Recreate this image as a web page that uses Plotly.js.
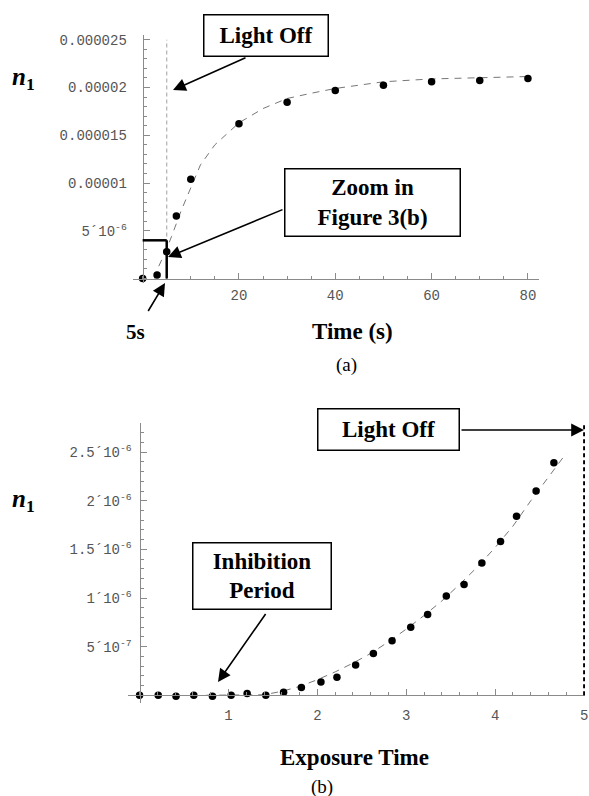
<!DOCTYPE html>
<html><head><meta charset="utf-8">
<script src="https://cdn.plot.ly/plotly-3.0.1.min.js"></script>
<style>html,body{margin:0;padding:0;background:#fff}#chart{width:589px;height:796px}</style>
</head><body><div id="chart"></div>
<script>
// ---- Figure (a): n1 vs Time (s) ----
const timeA = [0, 3, 5, 7, 10, 20, 30, 40, 50, 60, 70, 80];
const n1A = [0, 0.37e-6, 2.81e-6, 6.55e-6, 10.4e-6, 16.2e-6, 18.47e-6, 19.7e-6, 20.25e-6, 20.6e-6, 20.74e-6, 20.95e-6];
const fitTimeA = [2.5, 3, 4, 5, 6, 7, 8, 10, 12, 15, 17.5, 20, 25, 30, 35, 40, 45, 50, 60, 70, 80];
const fitN1A = [0, 0.9e-6, 2.0e-6, 3.1e-6, 4.4e-6, 5.8e-6, 7.1e-6, 9.5e-6, 11.9e-6, 14.0e-6, 15.2e-6, 16.3e-6, 17.8e-6, 18.85e-6, 19.4e-6, 19.9e-6, 20.25e-6, 20.6e-6, 20.9e-6, 21.05e-6, 21.15e-6];
const xTickValsA = [20, 40, 60, 80];
const xTickTextA = ['20', '40', '60', '80'];
const yTickValsA = [5e-6, 1e-5, 1.5e-5, 2e-5, 2.5e-5];
const yTickTextA = ['5\u00b410<sup>-6</sup>', '0.00001', '0.000015', '0.00002', '0.000025'];
const lightOffTimeA = 5;
const zoomBoxA = {t: 5, n: 4e-6};

// ---- Figure (b): n1 vs Exposure Time ----
const timeB = [0, 0.21, 0.41, 0.61, 0.82, 1.03, 1.21, 1.42, 1.62, 1.82, 2.04, 2.22, 2.43, 2.63, 2.84, 3.05, 3.24, 3.45, 3.65, 3.85, 4.06, 4.24, 4.46, 4.66];
const n1B = [0, 0, -0.01e-6, 0, -0.01e-6, 0, 0.017e-6, 0, 0.03e-6, 0.08e-6, 0.135e-6, 0.185e-6, 0.31e-6, 0.43e-6, 0.56e-6, 0.70e-6, 0.83e-6, 1.02e-6, 1.14e-6, 1.36e-6, 1.58e-6, 1.84e-6, 2.10e-6, 2.39e-6];
const fitTimeB = [0.75, 1.0, 1.2, 1.4, 1.6, 1.8, 2.0, 2.2, 2.4, 2.6, 2.8, 3.0, 3.2, 3.4, 3.6, 3.8, 4.0, 4.2, 4.4, 4.6, 4.8];
const fitN1B = [0, 0, 0, 0.005e-6, 0.04e-6, 0.09e-6, 0.16e-6, 0.24e-6, 0.33e-6, 0.43e-6, 0.55e-6, 0.68e-6, 0.82e-6, 0.97e-6, 1.14e-6, 1.32e-6, 1.52e-6, 1.74e-6, 2.0e-6, 2.25e-6, 2.49e-6];
const xTickValsB = [1, 2, 3, 4, 5];
const xTickTextB = ['1', '2', '3', '4', '5'];
const yTickValsB = [5e-7, 1e-6, 1.5e-6, 2e-6, 2.5e-6];
const yTickTextB = ['5\u00b410<sup>-7</sup>', '1\u00b410<sup>-6</sup>', '1.5\u00b410<sup>-6</sup>', '2\u00b410<sup>-6</sup>', '2.5\u00b410<sup>-6</sup>'];
const lightOffTimeB = 5;

// ---- layout helpers ----
const W = 589, H = 796;
const PX = x => x / W;
const PY = y => 1 - y / H;
const SERIF = 'Liberation Serif, Times New Roman, serif';
const MONO = 'Liberation Mono, Courier New, monospace';
const AXC = '#8a8a8a';

const domXA = [PX(133), PX(539)], domYA = [PY(283), PY(35)];
const rngXA = [-2, 82.3], rngYA = [-0.47e-6, 25.5e-6];
const domXB = [PX(128), PX(585)], domYB = [PY(703), PY(423)];
const rngXB = [-0.13, 5.01], rngYB = [-0.08e-6, 2.8e-6];
const zeroPos = (dom, rng) => dom[0] + (0 - rng[0]) / (rng[1] - rng[0]) * (dom[1] - dom[0]);

function axis(common) {
  return Object.assign({
    showgrid: false, zeroline: false, showline: true, linecolor: AXC, linewidth: 1,
    ticks: 'inside', ticklen: 6, tickcolor: AXC, tickwidth: 1,
    tickfont: {family: MONO, size: 14, color: '#555'},
    tickmode: 'array', anchor: 'free', fixedrange: true
  }, common);
}

const traces = [
  {x: fitTimeA, y: fitN1A, mode: 'lines', line: {color: '#777', width: 1, dash: '7px,6px'}, xaxis: 'x', yaxis: 'y', hoverinfo: 'skip', cliponaxis: false},
  {x: timeA, y: n1A, mode: 'markers', marker: {color: '#000', size: 7.5}, xaxis: 'x', yaxis: 'y', cliponaxis: false},
  {x: fitTimeB, y: fitN1B, mode: 'lines', line: {color: '#777', width: 1, dash: '7px,6px'}, xaxis: 'x2', yaxis: 'y2', hoverinfo: 'skip', cliponaxis: false},
  {x: timeB, y: n1B, mode: 'markers', marker: {color: '#000', size: 7.5}, xaxis: 'x2', yaxis: 'y2', cliponaxis: false}
];

function box(text, cx, cy, w, h, size) {
  return {xref: 'paper', yref: 'paper', x: PX(cx), y: PY(cy), xanchor: 'center', yanchor: 'middle',
    text: text, showarrow: false, font: {family: SERIF, size: size || 23, color: '#000'},
    bordercolor: '#000', borderwidth: 1.5, borderpad: 0, bgcolor: '#fff', width: w, height: h};
}
function arrow(tx, ty, hx, hy) {
  return {xref: 'paper', yref: 'paper', x: PX(hx), y: PY(hy), ax: tx - hx, ay: ty - hy,
    text: ' ', font: {size: 1}, showarrow: true, arrowhead: 2, arrowsize: 1.6, arrowwidth: 1.6,
    arrowcolor: '#000', standoff: 0, startstandoff: 0};
}
function label(text, cx, cy, size, extra) {
  return Object.assign({xref: 'paper', yref: 'paper', x: PX(cx), y: PY(cy), xanchor: 'center', yanchor: 'middle',
    text: text, showarrow: false, font: {family: SERIF, size: size, color: '#000'}}, extra || {});
}

const annotations = [
  arrow(247, 57, 173, 90),
  arrow(284, 209, 168, 257),
  arrow(147, 313, 165, 283),
  arrow(460, 430, 584, 430),
  arrow(267, 612, 218, 682),
  box('<b>Light Off</b>', 266, 35.5, 123, 40),
  box('<b>Zoom in<br>Figure 3(b)</b>', 372.5, 202.5, 174, 66),
  box('<b>Light Off</b>', 388.5, 429.5, 140, 40),
  box('<b>Inhibition<br>Period</b>', 262, 576, 137, 65),
  label('<b><i>n</i><sub>1</sub></b>', 23, 78, 25),
  label('<b><i>n</i><sub>1</sub></b>', 23, 500, 25),
  label('<b>Time (s)</b>', 352, 332, 23),
  label('<b>5s</b>', 135.5, 332, 21),
  label('(a)', 346, 365, 19),
  label('<b>Exposure Time</b>', 354, 757, 23),
  label('(b)', 322, 787, 19)
];

const shapes = [
  {type: 'line', xref: 'x', yref: 'y', x0: lightOffTimeA, x1: lightOffTimeA, y0: 0, y1: 25e-6, line: {color: '#b0b0b0', width: 1.2, dash: '4px,3px'}},
  {type: 'line', xref: 'x', yref: 'y', x0: 0, x1: zoomBoxA.t, y0: zoomBoxA.n, y1: zoomBoxA.n, line: {color: '#000', width: 2.5}},
  {type: 'line', xref: 'x', yref: 'y', x0: zoomBoxA.t, x1: zoomBoxA.t, y0: zoomBoxA.n, y1: 0, line: {color: '#000', width: 2.5}},
  {type: 'line', xref: 'x2', yref: 'y2', x0: lightOffTimeB, x1: lightOffTimeB, y0: 0, y1: 2.8e-6, line: {color: '#000', width: 2, dash: '4px,3px'}}
];

const layout = {
  width: W, height: H, margin: {l: 0, r: 0, t: 0, b: 0},
  paper_bgcolor: '#fff', plot_bgcolor: 'rgba(0,0,0,0)', showlegend: false, hovermode: false,
  xaxis: axis({domain: domXA, range: rngXA, position: zeroPos(domYA, rngYA), tickvals: xTickValsA, ticktext: xTickTextA,
    ticklabelstandoff: 4, minor: {tickmode: 'linear', tick0: 0, dtick: 5, ticklen: 3, tickcolor: AXC, ticks: 'inside'}}),
  yaxis: axis({domain: domYA, range: rngYA, position: zeroPos(domXA, rngXA), tickvals: yTickValsA, ticktext: yTickTextA,
    ticklabelstandoff: 13, minor: {tickmode: 'linear', tick0: 0, dtick: 1e-6, ticklen: 3, tickcolor: AXC, ticks: 'inside'}}),
  xaxis2: axis({domain: domXB, range: rngXB, position: zeroPos(domYB, rngYB), tickvals: xTickValsB, ticktext: xTickTextB,
    ticklabelstandoff: 7, minor: {tickmode: 'linear', tick0: 0, dtick: 0.2, ticklen: 3, tickcolor: AXC, ticks: 'inside'}}),
  yaxis2: axis({domain: domYB, range: rngYB, position: zeroPos(domXB, rngXB), tickvals: yTickValsB, ticktext: yTickTextB,
    ticklabelstandoff: 5, minor: {tickmode: 'linear', tick0: 0, dtick: 1e-7, ticklen: 3, tickcolor: AXC, ticks: 'inside'}}),
  annotations: annotations,
  shapes: shapes
};

Plotly.newPlot('chart', traces, layout, {displayModeBar: false, staticPlot: true});
</script>
</body></html>
